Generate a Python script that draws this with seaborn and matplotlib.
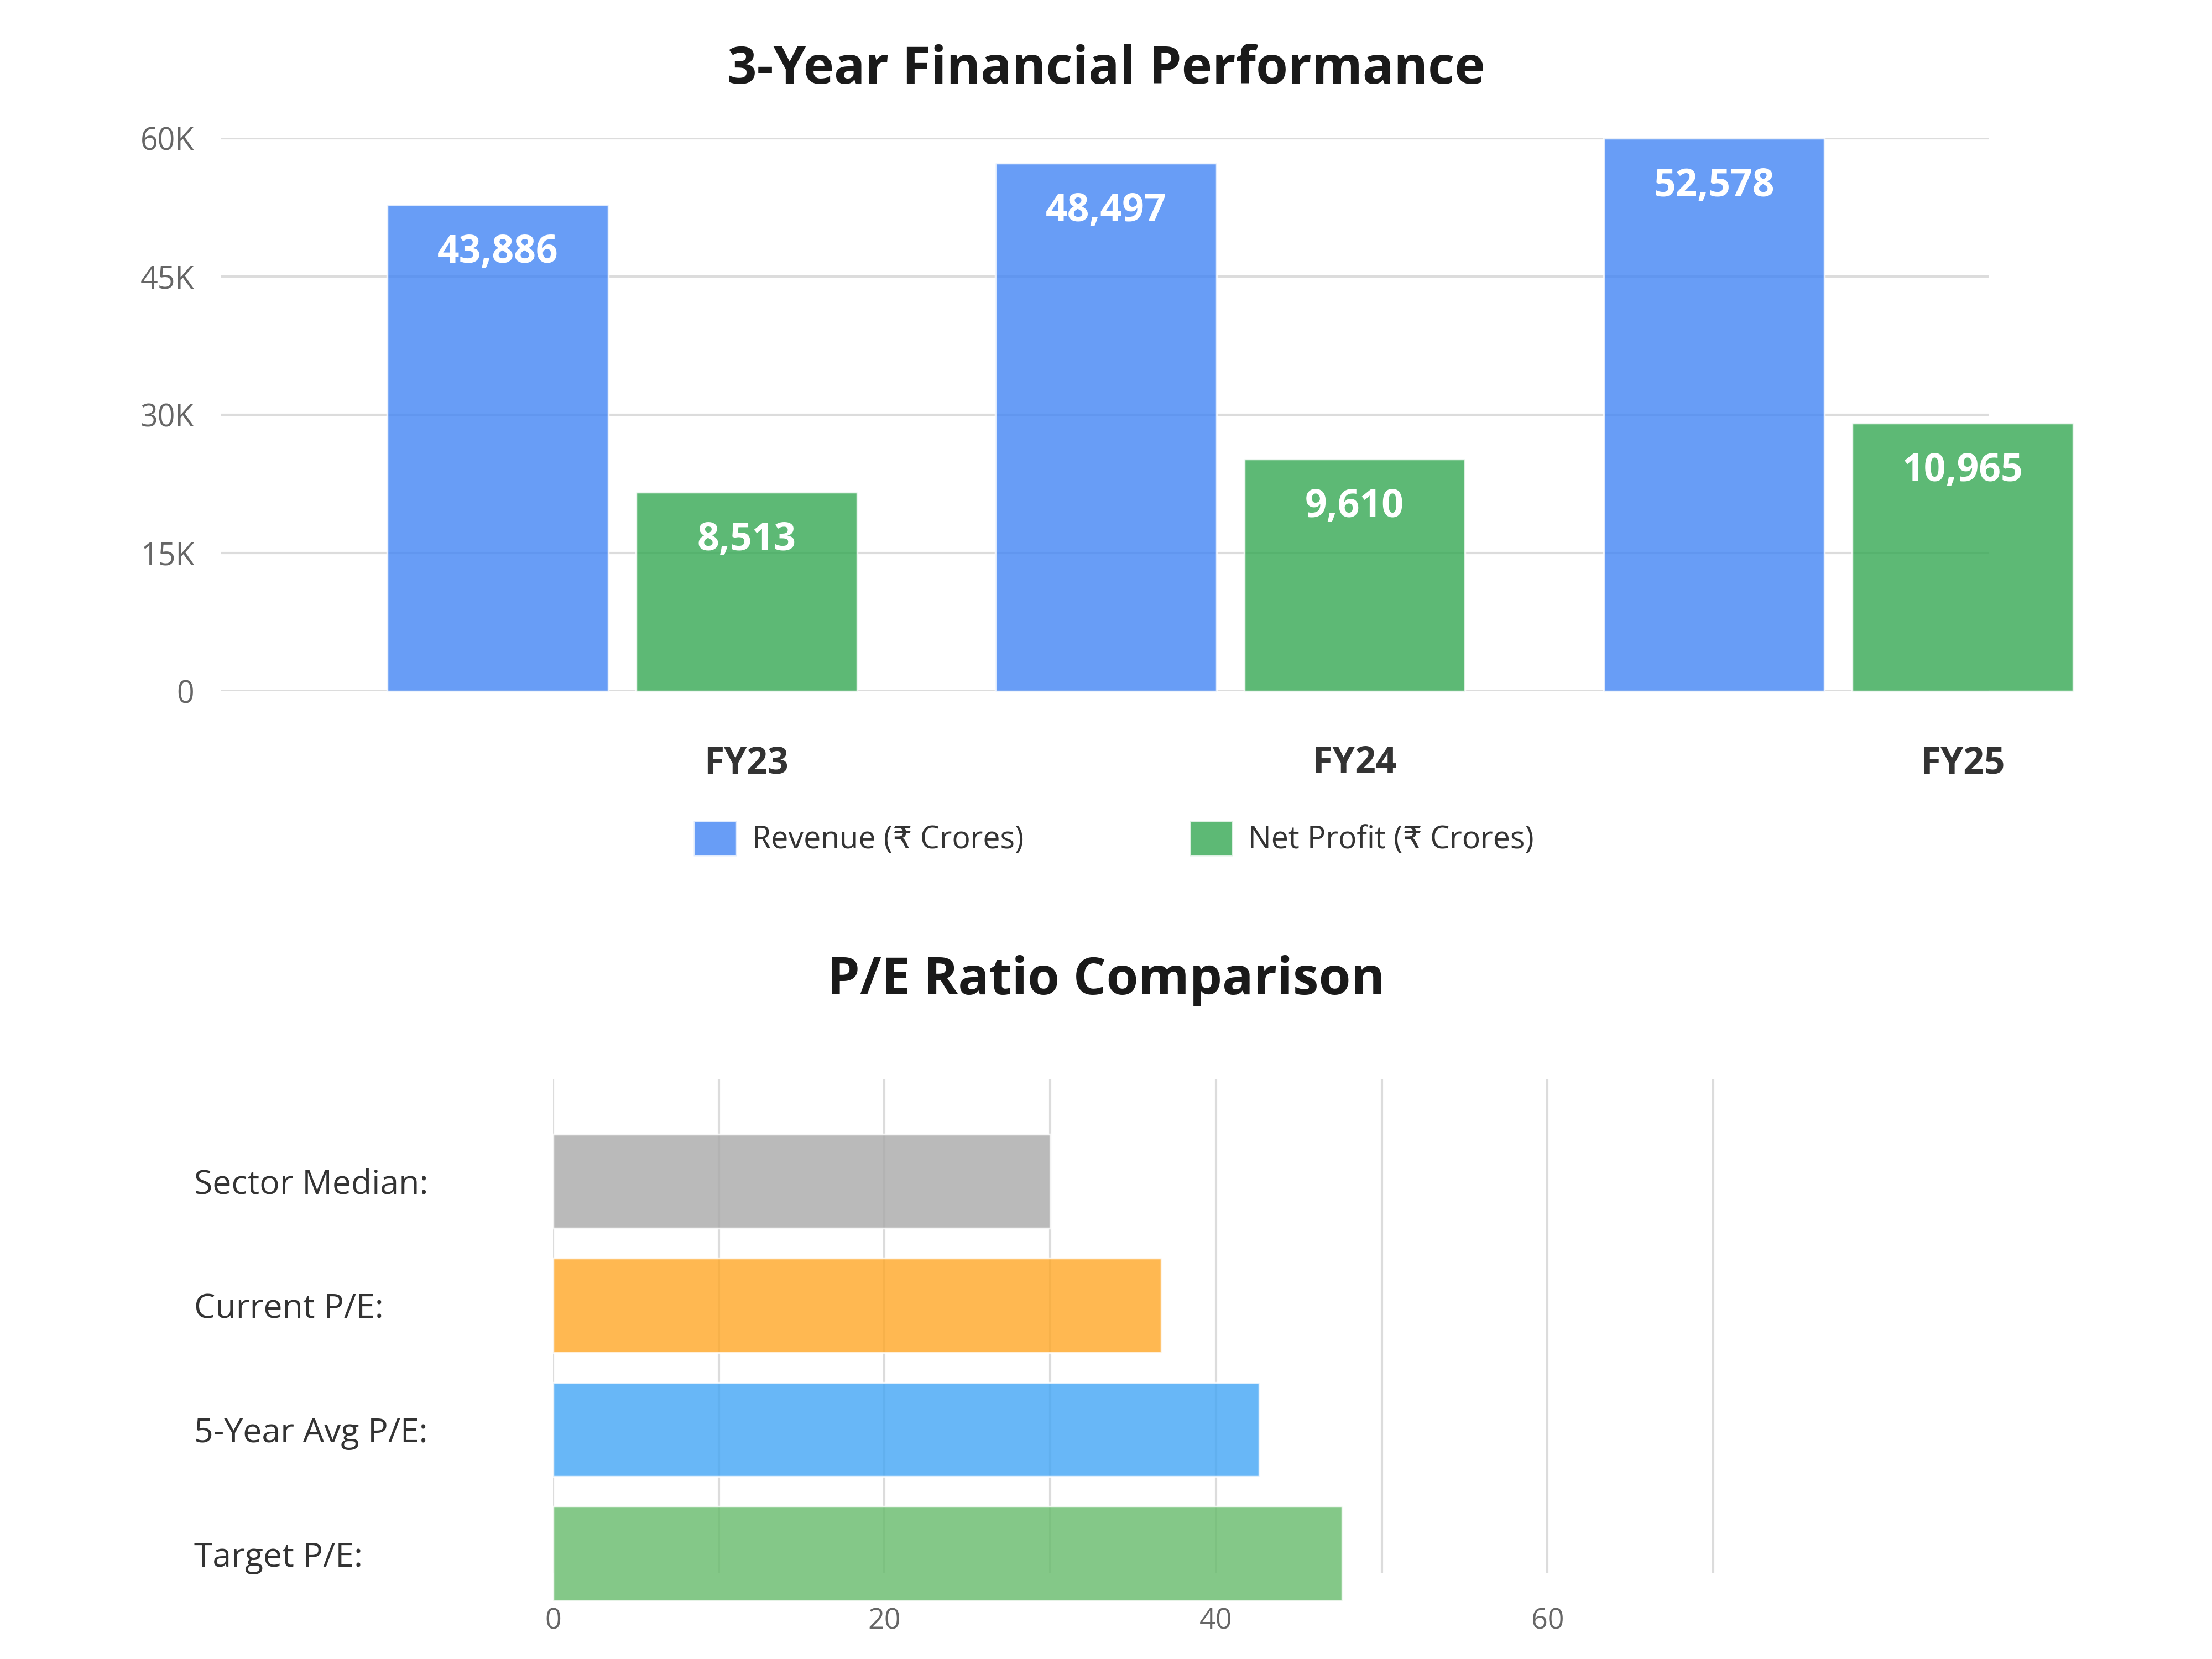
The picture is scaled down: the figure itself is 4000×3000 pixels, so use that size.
import numpy as np
import pandas as pd
import matplotlib
matplotlib.use("Agg")
import matplotlib.pyplot as plt
import seaborn as sns

# top chart data
years = ["FY23", "FY24", "FY25"]
revenue_labels = ["43,886", "48,497", "52,578"]
profit_labels = ["8,513", "9,610", "10,965"]
# bar heights as drawn on the 0-60K axis
revenue_heights = [52800, 57300, 60000]
profit_heights = [21600, 25200, 29100]
series_names = ["Revenue (₹ Crores)", "Net Profit (₹ Crores)"]
y_ticks = [0, 15000, 30000, 45000, 60000]
y_tick_labels = ["0", "15K", "30K", "45K", "60K"]

# bottom chart data
pe_labels = ["Sector Median:", "Current P/E:", "5-Year Avg P/E:", "Target P/E:"]
pe_values = [30.0, 36.7, 42.6, 47.6]
pe_colors = ["#a9a9a9", "#ffa726", "#42a5f5", "#66bb6a"]
x_ticks = [0, 20, 40, 60]

sns.set_theme(style="white")
plt.rcParams["font.family"] = ["Open Sans", "DejaVu Sans"]

fig = plt.figure(figsize=(16, 12), dpi=250)

# ---- 3-Year Financial Performance ----
ax1 = fig.add_axes([0.1, 0.5833, 0.799, 0.3334])
df = pd.DataFrame({
    "year": years * 2,
    "series": [series_names[0]] * 3 + [series_names[1]] * 3,
    "value": revenue_heights + profit_heights,
})
sns.barplot(data=df, x="year", y="value", hue="series",
            palette=["#4285f4", "#34a853"], alpha=0.8,
            width=0.818, gap=0.111, saturation=1, ax=ax1, zorder=3)
handles, labels = ax1.get_legend_handles_labels()
ax1.legend_.remove()

for cont, labs in zip(ax1.containers, [revenue_labels, profit_labels]):
    for p, lab in zip(cont.patches, labs):
        p.set_clip_on(False)
        ax1.annotate(lab, (p.get_x() + p.get_width() / 2, p.get_height()),
                     xytext=(0, -25), textcoords="offset points",
                     ha="center", va="center", color="white",
                     fontsize=20, fontweight="bold", zorder=5)

ax1.set_ylim(0, 60000)
ax1.set_xlim(-0.659, 2.247)
ax1.set_yticks(y_ticks)
ax1.set_yticklabels(y_tick_labels, fontsize=16, color="#666666")
ax1.set_xticks([i + 0.2045 for i in range(len(years))])
ax1.set_xticklabels(years, fontsize=19, fontweight="bold", color="#333333")
ax1.tick_params(axis="x", length=0, pad=28)
ax1.tick_params(axis="y", length=0, pad=14)
ax1.grid(axis="y", color="#dcdcdc", linewidth=1.2, zorder=0)
ax1.set_axisbelow(True)
sns.despine(ax=ax1, left=True, bottom=True)
ax1.set_xlabel("")
ax1.set_ylabel("")

fig.text(0.5, 0.958, "3-Year Financial Performance", ha="center", va="center",
         fontsize=27, fontweight="bold", color="#1a1a1a")

fig.legend(handles, labels, loc="center", bbox_to_anchor=(0.5035, 0.4945),
           ncol=2, frameon=False, fontsize=16, handlelength=1.4,
           handleheight=1.4, handletextpad=0.5, columnspacing=5.4,
           labelcolor="#333333")

# ---- P/E Ratio Comparison ----
ax2 = fig.add_axes([0.25, 0.052, 0.5395, 0.2977])
sns.barplot(x=pe_values, y=pe_labels, hue=pe_labels, palette=pe_colors,
            alpha=0.8, width=0.76, saturation=1, legend=False, ax=ax2,
            orient="h", zorder=3)
for p in ax2.patches:
    p.set_clip_on(False)
ax2.set_xlim(0, 72)
ax2.set_ylim(3.153, -0.824)
ax2.set_xticks(x_ticks)
ax2.set_xticklabels([str(t) for t in x_ticks], fontsize=15, color="#666666")
ax2.xaxis.set_minor_locator(matplotlib.ticker.MultipleLocator(10))
ax2.grid(axis="x", which="both", color="#dcdcdc", linewidth=1.2, zorder=0)
ax2.grid(axis="y", visible=False)
ax2.set_axisbelow(True)
ax2.tick_params(axis="x", which="both", length=0, pad=18)
ax2.tick_params(axis="y", length=0, pad=187)
for t in ax2.get_yticklabels():
    t.set_ha("left")
    t.set_fontsize(17.5)
    t.set_color("#333333")
sns.despine(ax=ax2, left=True, bottom=True)
ax2.set_xlabel("")
ax2.set_ylabel("")

fig.text(0.5, 0.409, "P/E Ratio Comparison", ha="center", va="center",
         fontsize=27, fontweight="bold", color="#1a1a1a")

fig.savefig("out.png", dpi=250, facecolor="white")
